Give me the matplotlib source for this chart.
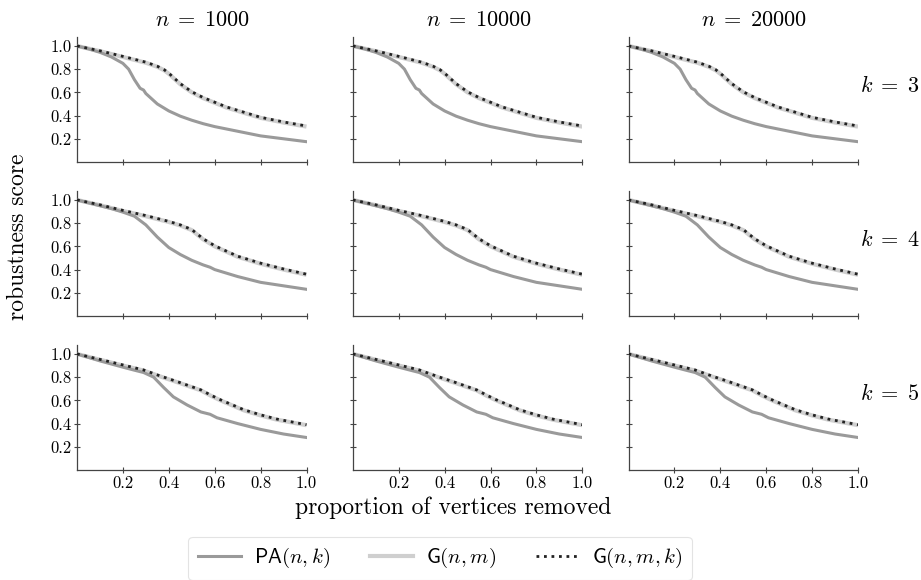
import matplotlib
matplotlib.use("Agg")
import matplotlib.pyplot as plt
from matplotlib.lines import Line2D

plt.rcParams['mathtext.fontset'] = 'cm'
plt.rcParams['font.family'] = 'cmr10'
plt.rcParams['axes.unicode_minus'] = False
plt.rcParams['axes.formatter.use_mathtext'] = True

# ---------------- data ----------------
n_values = [1000, 10000, 20000]
k_values = [3, 4, 5]

# proportion of vertices removed (x) and robustness score (y), per k
pa_x = {
    3: [0, 0.05, 0.10, 0.15, 0.20, 0.225, 0.25, 0.275, 0.29, 0.30, 0.35, 0.40, 0.45, 0.50, 0.55, 0.58, 0.60, 0.70, 0.80, 0.90, 1.0],
    4: [0, 0.05, 0.10, 0.15, 0.20, 0.25, 0.29, 0.30, 0.35, 0.40, 0.45, 0.50, 0.55, 0.58, 0.60, 0.70, 0.80, 0.90, 1.0],
    5: [0, 0.05, 0.10, 0.15, 0.20, 0.25, 0.29, 0.334, 0.378, 0.42, 0.48, 0.54, 0.58, 0.61, 0.70, 0.80, 0.90, 1.0],
}
pa_y = {
    3: [1.0, 0.975, 0.945, 0.905, 0.85, 0.80, 0.71, 0.635, 0.62, 0.59, 0.50, 0.44, 0.395, 0.36, 0.33, 0.315, 0.305, 0.265, 0.225, 0.20, 0.175],
    4: [1.0, 0.975, 0.95, 0.925, 0.895, 0.86, 0.80, 0.785, 0.68, 0.59, 0.53, 0.48, 0.44, 0.42, 0.40, 0.34, 0.29, 0.26, 0.23],
    5: [1.0, 0.97, 0.94, 0.913, 0.886, 0.86, 0.84, 0.80, 0.71, 0.63, 0.56, 0.50, 0.48, 0.45, 0.40, 0.35, 0.31, 0.28],
}
g_x = {
    3: [0, 0.10, 0.20, 0.30, 0.35, 0.38, 0.40, 0.45, 0.50, 0.55, 0.60, 0.65, 0.70, 0.80, 0.90, 1.0],
    4: [0, 0.10, 0.20, 0.30, 0.40, 0.45, 0.50, 0.55, 0.60, 0.70, 0.80, 0.90, 1.0],
    5: [0, 0.10, 0.20, 0.29, 0.363, 0.436, 0.54, 0.58, 0.625, 0.727, 0.80, 0.87, 1.0],
}
g_y = {
    3: [1.0, 0.955, 0.905, 0.855, 0.82, 0.79, 0.76, 0.67, 0.60, 0.55, 0.51, 0.47, 0.44, 0.38, 0.34, 0.305],
    4: [1.0, 0.955, 0.905, 0.86, 0.81, 0.78, 0.74, 0.66, 0.60, 0.51, 0.45, 0.40, 0.355],
    5: [1.0, 0.95, 0.90, 0.857, 0.806, 0.757, 0.686, 0.643, 0.60, 0.514, 0.47, 0.434, 0.386],
}
# G(n,m,k) nearly coincides with G(n,m)
gk_y = {
    3: [1.0, 0.958, 0.91, 0.86, 0.825, 0.795, 0.765, 0.675, 0.605, 0.555, 0.515, 0.475, 0.445, 0.385, 0.345, 0.31],
    4: [1.0, 0.958, 0.91, 0.865, 0.815, 0.785, 0.745, 0.665, 0.605, 0.515, 0.455, 0.405, 0.36],
    5: [1.0, 0.953, 0.905, 0.862, 0.81, 0.762, 0.69, 0.648, 0.605, 0.519, 0.475, 0.439, 0.39],
}

x_ticks = [0.2, 0.4, 0.6, 0.8, 1.0]
x_tick_labels = ['0.2', '0.4', '0.6', '0.8', '1.0']
y_ticks = [0.2, 0.4, 0.6, 0.8, 1.0]
y_tick_labels = ['0.2', '0.4', '0.6', '0.8', '1.0']

legend_labels = ['PA$(n,k)$', 'G$(n,m)$', 'G$(n,m,k)$']

# ---------------- layout ----------------
W, H = 921, 580
fig = plt.figure(figsize=(W / 100, H / 100), dpi=100)

col_left = [77, 352.8, 628.5]
ax_w = 229.5
row_bottom = [162, 316, 470]
ax_h = 125

c_pa = '#9a9a9a'
c_g = '#cfcfcf'
c_gk = '#222222'
spine_c = '#444444'

for r, k in enumerate(k_values):
    for c, n in enumerate(n_values):
        ax = fig.add_axes([col_left[c] / W, 1 - row_bottom[r] / H, ax_w / W, ax_h / H])
        ax.plot(g_x[k], g_y[k], color=c_g, lw=3.0, solid_capstyle='butt', zorder=2)
        ax.plot(pa_x[k], pa_y[k], color=c_pa, lw=2.2, zorder=3)
        ax.plot(g_x[k], gk_y[k], color=c_gk, lw=2.0, linestyle=(0, (1, 1.7)), zorder=4)
        ax.set_xlim(0, 1.0)
        ax.set_ylim(0, 1.077)
        for s in ['top', 'right']:
            ax.spines[s].set_visible(False)
        for s in ['left', 'bottom']:
            ax.spines[s].set_color(spine_c)
            ax.spines[s].set_linewidth(0.9)
        ax.set_xticks(x_ticks)
        ax.set_yticks(y_ticks)
        if r == 2:
            ax.set_xticklabels(x_tick_labels)
        else:
            ax.set_xticklabels([])
        if c == 0:
            ax.set_yticklabels(y_tick_labels)
        else:
            ax.set_yticklabels([])
        ax.tick_params(direction='inout', length=4, width=0.8, color=spine_c,
                       labelsize=12, pad=2)
        if r == 0:
            fig.text((col_left[c] + ax_w / 2 + 11) / W, 1 - 20 / H, f'$n\\;=\\;{n}$',
                     ha='center', va='center', fontsize=16)
        if c == 2:
            fig.text(890 / W, 1 - (86 + r * 153.5) / H, f'$k\\;=\\;{k}$',
                     ha='center', va='center', fontsize=16)

fig.text(18 / W, 1 - 237 / H, 'robustness score', rotation=90,
         ha='center', va='center', fontsize=17)
fig.text(453 / W, 1 - 508 / H, 'proportion of vertices removed',
         ha='center', va='center', fontsize=17)

handles = [
    Line2D([], [], color=c_pa, lw=2.2),
    Line2D([], [], color=c_g, lw=3.0),
    Line2D([], [], color=c_gk, lw=2.0, linestyle=(0, (1, 1.7))),
]
leg = fig.legend(handles, legend_labels, loc='upper center',
                 bbox_to_anchor=(440 / W, 1 - 537 / H), ncol=3,
                 prop={'family': 'cmss10', 'size': 15},
                 handlelength=2.1, handletextpad=0.6, columnspacing=1.9,
                 frameon=True, fancybox=True, borderpad=0.45, borderaxespad=0)
leg.get_frame().set_edgecolor('#dddddd')
leg.get_frame().set_linewidth(0.8)

fig.savefig('out.png', dpi=100)
